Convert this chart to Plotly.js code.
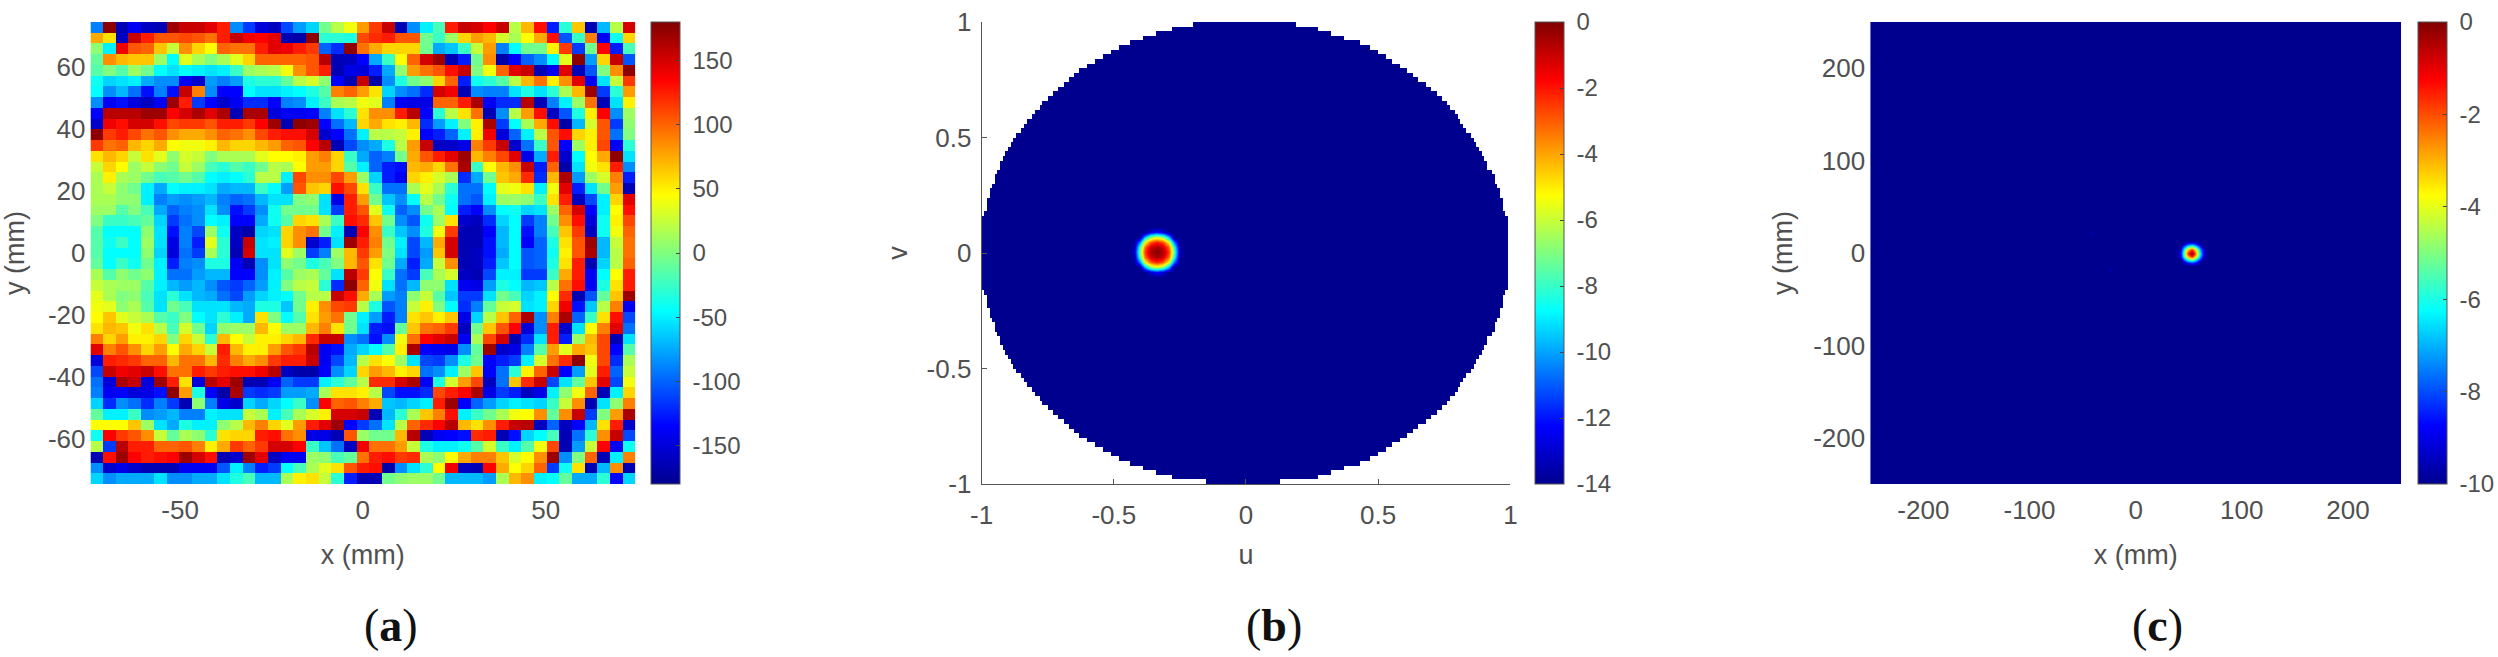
<!DOCTYPE html>
<html>
<head>
<meta charset="utf-8">
<script src="https://cdn.plot.ly/plotly-3.0.1.min.js"></script>
<style>body { margin: 0; background: #fff; }</style>
</head>
<body>
<div id="chart"></div>
<script>
// panel (a): phase in degrees, top row first, 43 x 43 cells
const phaseRows = [
[-90,175,-165,-140,-160,-165,170,155,155,145,125,-85,-115,-150,-160,-110,-80,-60,-5,20,40,80,115,155,-165,-85,-50,-20,125,155,150,135,155,20,70,130,-125,-30,65,-165,-70,20,150],
[75,55,-160,155,125,105,105,110,105,95,125,155,140,135,145,-165,-170,175,-30,-30,-35,110,120,125,105,105,-5,-25,10,60,80,70,30,15,45,75,130,-105,-25,90,-140,-40,60],
[5,-50,140,105,100,65,25,85,60,45,100,95,95,125,145,140,125,115,-100,-120,175,95,75,60,60,60,-5,-75,-65,-25,25,80,-90,-45,-5,-5,50,115,-115,-5,135,-125,-20],
[-10,85,70,65,65,10,-45,35,15,0,15,35,60,100,100,100,100,105,160,-165,-160,-135,-75,-25,45,100,150,170,-165,-125,-5,85,-170,-135,-100,-85,-45,35,175,-80,60,155,-105],
[-15,0,-15,10,-5,-45,-55,-45,-50,-55,-50,-25,10,15,20,40,85,105,125,-165,-145,-150,-125,-75,5,80,95,105,130,155,0,40,100,145,155,-165,-140,145,-165,-105,0,85,175],
[-40,-60,-55,-50,-75,-85,-85,-140,-155,-80,-90,-80,-35,-30,-30,-10,20,30,5,-135,-165,155,-170,-85,-35,-5,5,60,100,-125,-40,-30,-15,20,70,95,50,85,145,-140,-55,25,115],
[-45,-85,-70,-95,-130,-90,-130,155,90,-85,-135,-135,-45,-55,-55,-50,-45,-35,-15,90,100,80,55,-60,-85,-95,-120,150,140,-165,-85,-90,-90,-55,-35,-55,-30,15,70,170,-115,-30,80],
[-85,-140,-130,-150,-160,-140,170,125,-115,-135,-155,-140,-120,-120,-135,-90,-85,-50,-25,15,20,40,35,-90,-140,-145,-145,100,100,125,165,-140,-120,-120,160,-165,-90,-50,10,95,-165,-55,50],
[-135,160,160,160,170,170,135,150,165,145,165,-165,165,165,-150,-140,-140,-135,-90,-55,-30,55,85,85,125,160,-135,-30,20,55,95,-165,-85,20,80,130,-160,-105,-35,50,135,-85,10],
[-155,140,130,150,150,130,110,115,115,105,125,125,115,135,170,-165,175,170,-135,-95,-70,60,75,55,50,70,-120,-80,-50,0,50,165,-115,-45,15,75,130,-170,-70,30,105,-115,5],
[175,115,125,110,95,105,85,75,75,85,100,95,85,110,125,130,130,150,-155,-135,-95,-50,20,20,25,50,-135,-125,-100,-50,50,140,-150,-100,-50,20,105,130,60,50,105,-95,0],
[115,95,100,70,60,75,45,40,40,50,70,60,60,70,80,100,105,135,160,-165,-110,-85,-75,-35,20,80,155,-160,-155,-145,90,115,155,-155,-95,-25,105,-135,10,50,110,-140,-30],
[55,70,60,25,55,35,5,30,25,0,15,15,15,35,45,45,50,80,90,60,-25,-75,-100,-90,-5,75,105,125,145,170,70,90,110,145,-145,-75,125,-155,-45,45,75,175,-55],
[25,60,45,10,25,5,-5,25,10,-20,-30,-15,-25,-5,20,15,45,80,80,60,-15,-50,-100,-125,-130,70,75,60,95,165,-25,45,70,85,155,-125,100,-170,-55,40,55,125,-85],
[15,50,15,10,-5,-20,-15,-5,-15,-45,-50,-45,-30,20,20,-50,110,85,85,110,80,10,-60,-125,-140,60,50,30,15,-120,-75,-5,65,75,120,-120,70,165,-80,10,30,90,-125],
[15,25,5,-5,-50,-75,-45,-50,-50,-55,-75,-70,-70,-25,-45,-80,105,65,60,130,110,55,-25,-95,-95,15,35,15,-30,-95,-95,-45,35,40,55,-50,40,145,-125,-55,-5,80,-165],
[15,15,5,5,-50,-90,-80,-85,-80,-70,-90,-100,-95,-70,-55,-55,0,5,-55,-145,125,80,-5,-65,-85,-45,20,-5,-40,-95,-105,-50,10,10,5,-25,55,125,-160,-110,-50,60,145],
[10,10,-15,0,-20,-75,-100,-90,-85,-55,-85,-130,-115,-85,-40,-5,-5,-5,-55,-115,125,105,35,-40,-100,-85,-5,15,-45,-125,-135,-85,-45,-40,-60,-55,10,100,150,-135,-50,45,130],
[0,-25,-25,-20,-10,-60,-115,-95,-85,-45,-50,-135,-135,-75,-40,-15,60,55,15,-25,130,120,65,-5,-85,-105,-40,10,55,-155,-160,-120,-60,-45,-115,-90,-5,85,130,-150,-40,50,110],
[-15,-45,-45,-45,5,-55,-130,-90,-110,10,-40,-160,-170,-60,-55,60,85,95,-5,-50,-165,135,85,-25,-65,-85,-35,40,115,-165,-165,-135,-70,-45,-130,-90,-20,65,115,-160,-40,40,100],
[-15,-40,-25,-45,10,-55,-145,-90,-125,35,-30,-160,155,-55,-50,60,85,-155,-125,-55,170,125,90,-5,-50,-110,-70,75,150,-165,-165,-130,-70,-45,-135,-100,-35,55,105,170,-70,25,95],
[-15,-45,-45,-45,5,-60,-150,-95,-115,15,-30,-165,150,-55,-55,35,10,-115,-90,10,70,115,80,0,-55,-110,-80,65,150,-165,-160,-130,-75,-45,-105,-100,-40,50,105,165,-70,20,95],
[-10,-45,-25,-40,-5,-50,-125,-90,-85,-35,-35,-140,-165,-85,-55,5,-5,-35,-20,0,70,105,55,-5,-75,-125,-75,25,85,-165,-160,-125,-65,-45,-105,-100,-35,55,125,-165,-60,20,100],
[15,-15,5,-5,5,-50,-95,-95,-80,-70,-70,-135,-135,-85,-50,-15,10,15,-10,-55,160,115,45,-25,-95,-115,-20,15,30,-160,-165,-110,-50,-50,-115,-115,-25,75,125,-140,-45,45,125],
[25,15,10,10,-15,-50,-70,-80,-70,-85,-105,-115,-100,-80,-50,0,20,25,-30,-120,175,100,40,-55,-95,-70,5,5,-55,-140,-145,-80,-35,-45,-70,-65,20,95,130,-140,-35,55,125],
[35,15,0,5,-20,-55,-30,-55,-70,-75,-95,-110,-80,-60,-50,-45,-5,20,20,155,130,75,15,-80,-90,5,25,-15,-65,-115,-115,-55,-5,-20,-60,-50,45,120,-165,-105,-10,65,170],
[40,35,5,15,-15,-55,-5,-20,-55,-55,-55,-70,-75,-35,-35,-65,-5,50,85,110,115,20,-35,-105,-90,25,50,0,-45,-120,-90,-10,25,30,-55,-50,60,140,-130,-65,20,90,-140],
[45,65,35,25,15,-15,-25,0,-45,-55,-30,-50,-75,55,0,-45,-15,55,80,95,-5,-50,-80,-125,-90,55,65,50,65,-145,-60,20,65,100,165,-85,90,165,-100,-25,55,130,-110],
[55,70,65,40,55,20,-20,30,-5,-60,5,10,10,70,45,10,10,70,90,55,-5,-55,-125,-130,-10,65,95,100,115,-160,-5,65,105,135,-150,-85,125,-155,-55,45,90,145,-95],
[90,60,80,50,50,60,0,60,25,-30,70,45,25,50,50,60,70,120,155,155,-85,-95,-130,-85,40,95,135,145,155,-140,15,110,150,-165,-120,-55,125,-125,10,70,110,-165,-55],
[145,90,105,85,60,80,45,75,60,25,125,70,50,50,80,105,115,160,-140,-130,-75,-60,-45,-15,50,165,-135,-140,-145,-85,-10,170,-155,-145,-90,-15,80,35,75,65,110,-135,-15],
[-150,125,120,115,100,100,70,95,95,70,120,90,75,85,115,125,125,155,-140,-110,-70,20,55,45,10,-55,-110,-115,-85,-35,-5,-135,-125,-115,-50,30,95,120,175,40,110,-120,15],
[-110,155,140,145,155,130,95,95,125,115,125,130,130,140,160,-160,-170,-170,-135,-85,-60,60,80,70,50,60,-95,-85,-50,10,65,-135,-95,-30,50,100,155,-135,-80,35,125,-100,25],
[-95,-150,165,155,-150,170,125,55,-150,160,145,170,-165,-165,-140,-100,-115,-115,-50,-30,-10,20,120,120,150,165,-140,-35,30,80,110,-160,-95,65,120,155,-110,-55,-10,65,145,-110,40],
[-90,-140,-135,-150,-145,-130,175,80,-35,-135,-170,165,-115,-120,-115,-80,-80,-75,15,55,55,50,20,-110,-130,-130,-120,110,125,135,165,-145,-115,-125,-160,-145,-50,5,40,100,-165,-50,60],
[-60,-120,-85,-95,-120,-90,-115,-165,5,-90,-145,-155,-60,-75,-60,-45,-25,-85,135,100,105,90,75,-65,-70,-60,-50,125,170,-135,-100,-80,-60,-50,-55,-60,-25,25,85,-165,-55,5,90],
[-10,-50,-50,-25,-85,-80,-70,-90,-90,-50,-55,-55,25,15,-50,-20,15,30,50,150,150,155,-165,-70,-30,15,65,90,130,-50,-25,-5,15,40,45,85,-10,85,155,-115,0,80,165],
[45,45,45,65,10,-55,-75,-35,-50,-50,5,20,70,90,60,35,80,125,145,170,-135,-115,-95,-55,20,100,120,135,160,70,55,85,125,155,160,-160,-100,-160,-135,-70,55,125,-155],
[-40,135,115,105,85,25,-10,15,5,-30,55,60,60,125,130,95,85,-145,-145,-165,105,10,-5,-5,70,160,-165,-140,-135,-130,120,125,-165,-130,-60,-45,-20,-165,-95,-30,85,155,-110],
[20,-115,160,125,125,100,100,105,90,50,75,115,100,115,150,150,135,-25,-65,-95,-160,140,95,95,80,25,-35,-50,-50,-40,-15,30,-25,-50,-15,40,110,-165,-80,25,135,-140,-40],
[-165,130,170,135,125,130,135,170,150,130,-165,-155,170,145,-160,-140,-140,10,5,-20,-10,95,125,130,115,120,15,5,45,75,90,90,65,30,45,85,170,-85,0,100,-165,-50,90],
[-85,-155,-145,-155,-165,-165,-165,-140,-140,-140,-105,-50,-90,-125,-115,-45,-20,15,35,55,105,125,130,-170,-85,-55,-30,45,140,-160,-165,135,75,45,60,100,-115,-40,55,-165,-70,85,-165],
[-60,-85,-75,-75,-75,-55,-85,-85,-75,-75,-55,-35,-20,-70,-70,15,50,55,25,-30,-125,-165,-165,-5,5,10,10,-5,-70,-70,-70,-80,15,70,85,-50,-45,-10,-75,-75,-30,-135,-60]
];

// panel (b): half width of the visible disc per row of v, top half then bottom half
const discUpper = [.20,.28,.34,.39,.44,.48,.51,.54,.57,.60,.63,.65,.67,.69,.71,.73,.75,.77,.78,.80,.81,.83,.84,.85,.87,.88,.89,.90,.91,.92,.93,.93,.94,.95,.95,.96,.97,.97,.98,.98,.98,.99,1,1,1,1,1,1,1,1];
const discLower = [1,1,1,1,1,1,1,1,.99,.98,.98,.98,.97,.97,.96,.95,.95,.94,.93,.93,.92,.91,.90,.89,.88,.87,.85,.84,.83,.81,.80,.78,.77,.75,.73,.71,.69,.67,.65,.63,.60,.57,.54,.51,.48,.44,.39,.34,.28,.15];
const discFloor = -14;

// panel (b): beam spot in dB
const spotBu = [-.448,-.426,-.404,-.382,-.36,-.338,-.316,-.294,-.272,-.25,-.228];
const spotBv = [.115,.093,.071,.049,.027,.005,-.017,-.039,-.061,-.083,-.105];
const spotBz = [
[-14,-14,-14,-14,-14,-14,-14,-14,-14,-14,-14],
[-14,-14,-14,-14,-12.8,-12,-12.8,-14,-14,-14,-14],
[-14,-14,-14,-9.8,-6.7,-5.8,-6.7,-9.8,-14,-14,-14],
[-14,-14,-10.5,-5.4,-2.9,-2.1,-2.9,-5.4,-10.5,-14,-14],
[-14,-13.9,-8,-3.2,-1.1,-.5,-1.1,-3.2,-8,-13.9,-14],
[-14,-13.4,-7.2,-2.5,-.6,0,-.6,-2.5,-7.2,-13.4,-14],
[-14,-13.9,-8,-3.2,-1.1,-.5,-1.1,-3.2,-8,-13.9,-14],
[-14,-14,-10.5,-5.4,-2.9,-2.1,-2.9,-5.4,-10.5,-14,-14],
[-14,-14,-14,-9.8,-6.7,-5.8,-6.7,-9.8,-14,-14,-14],
[-14,-14,-14,-14,-12.8,-12,-12.8,-14,-14,-14,-14],
[-14,-14,-14,-14,-14,-14,-14,-14,-14,-14,-14]
];

// panel (c): image plane in dB, spot plus the two faint dots
const spotCx = [38.5,42,45.5,49,52.5,56,59.5,63,66.5];
const spotCy = [14,10.5,7,3.5,0,-3.5,-7,-10.5,-14];
const spotCz = [
[-10,-10,-10,-10,-10,-10,-10,-10,-10],
[-10,-10,-9.6,-8.5,-8.1,-8.5,-9.6,-10,-10],
[-10,-10,-7.8,-5.8,-5,-5.8,-7.8,-10,-10],
[-10,-9,-6.1,-3.2,-1.5,-3.2,-6.1,-9,-10],
[-10,-8.5,-5.4,-1.7,0,-1.7,-5.4,-8.5,-10],
[-10,-9,-6.1,-3.2,-1.5,-3.2,-6.1,-9,-10],
[-10,-10,-7.8,-5.8,-5,-5.8,-7.8,-10,-10],
[-10,-10,-9.6,-8.5,-8.1,-8.5,-9.6,-10,-10],
[-10,-10,-10,-10,-10,-10,-10,-10,-10]
];
const dotOneX = [-44.5,-41.5,-38.5];
const dotOneY = [23,20,17];
const dotTwoX = [-26.5,-23.5,-20.5];
const dotTwoY = [-14.7,-17.7,-20.7];
const dotZ = [[-10,-10,-10],[-10,-9.6,-10],[-10,-10,-10]];

const jet = [[0,'#00008f'],[.125,'#0000ff'],[.375,'#00ffff'],[.625,'#ffff00'],[.875,'#ff0000'],[1,'#800000']];
const textColor = '#505050';
const W = 2498, H = 657;
const plotTop = 22, plotBottom = 484;

// cell centres for panel (a), range is about +/-74.5 mm
const phaseX = [], phaseY = [];
for (let i = 0; i < 43; i++) {
    phaseX.push(-74.5 + (i + .5) * 149 / 43);
    phaseY.push(74.5 - (i + .5) * 149 / 43);
}

// disc mask for panel (b)
const discU = [], discV = [], discZ = [];
for (let i = 0; i < 200; i++) discU.push(-.995 + i * .01);
discUpper.concat(discLower).forEach((hw, j) => {
    discV.push(.99 - j * .02);
    discZ.push(discU.map(u => (u >= -hw && u <= hw - .015) ? discFloor : null));
});

function xDomain(a, b) { return [a / W, b / W]; }
const yDomain = [1 - plotBottom / H, 1 - plotTop / H];

function colorbar(left, width, vals) {
    return {
        x: left / W, xanchor: 'left', xpad: 0,
        y: yDomain[0], yanchor: 'bottom', ypad: 0,
        len: yDomain[1] - yDomain[0], lenmode: 'fraction',
        thickness: width, thicknessmode: 'pixels',
        outlinecolor: '#555', outlinewidth: 1,
        tickmode: 'array', tickvals: vals, ticktext: vals.map(v => '\u00a0' + v),
        ticks: 'inside', ticklen: 4, tickcolor: '#444', tickwidth: 1,
        tickfont: { family: 'Liberation Sans', size: 24, color: textColor }
    };
}

function axis(domain, anchor, range, vals, title, standoff, extra) {
    return Object.assign({
        domain: domain, anchor: anchor, range: range,
        tickmode: 'array', tickvals: vals, ticktext: vals.map(String),
        showgrid: false, zeroline: false, ticks: '',
        tickfont: { family: 'Liberation Sans', size: 26, color: textColor },
        title: { text: title, font: { family: 'Liberation Sans', size: 27, color: textColor }, standoff: standoff }
    }, extra || {});
}

const boxedLine = { showline: true, linecolor: '#555', linewidth: 1, ticks: 'inside', ticklen: 5, tickcolor: '#555' };

const traces = [
    { type: 'heatmap', x: phaseX, y: phaseY, z: phaseRows, coloraxis: 'coloraxis', xaxis: 'x', yaxis: 'y', hoverinfo: 'skip' },
    { type: 'heatmap', x: discU, y: discV, z: discZ, coloraxis: 'coloraxis2', xaxis: 'x2', yaxis: 'y2', hoverongaps: false, hoverinfo: 'skip' },
    { type: 'heatmap', x: spotBu, y: spotBv, z: spotBz, zsmooth: 'best', coloraxis: 'coloraxis2', xaxis: 'x2', yaxis: 'y2', hoverinfo: 'skip' },
    { type: 'heatmap', x: [-250, 250], y: [-250, 250], z: [[-10]], coloraxis: 'coloraxis3', xaxis: 'x3', yaxis: 'y3', hoverinfo: 'skip' },
    { type: 'heatmap', x: spotCx, y: spotCy, z: spotCz, zsmooth: 'best', coloraxis: 'coloraxis3', xaxis: 'x3', yaxis: 'y3', hoverinfo: 'skip' },
    { type: 'heatmap', x: dotOneX, y: dotOneY, z: dotZ, zsmooth: 'best', coloraxis: 'coloraxis3', xaxis: 'x3', yaxis: 'y3', hoverinfo: 'skip' },
    { type: 'heatmap', x: dotTwoX, y: dotTwoY, z: dotZ, zsmooth: 'best', coloraxis: 'coloraxis3', xaxis: 'x3', yaxis: 'y3', hoverinfo: 'skip' }
];

function panelLabel(letter, cx) {
    return {
        xref: 'paper', yref: 'paper', x: cx / W, y: 1 - 625 / H,
        xanchor: 'center', yanchor: 'middle', showarrow: false,
        text: '(<b>' + letter + '</b>)',
        font: { family: 'Liberation Serif', size: 46, color: '#111' }
    };
}

const layout = {
    width: W, height: H,
    margin: { l: 0, r: 0, t: 0, b: 0 },
    paper_bgcolor: '#fff', plot_bgcolor: '#fff',
    showlegend: false,
    xaxis: axis(xDomain(90.5, 635.5), 'y', [-74.5, 74.5], [-50, 0, 50], 'x (mm)', 21, { ticklabelstandoff: 8 }),
    yaxis: axis(yDomain, 'x', [-74.5, 74.5], [-60, -40, -20, 0, 20, 40, 60], 'y (mm)', 17, { ticklabelstandoff: 4 }),
    xaxis2: axis(xDomain(982, 1511), 'y2', [-1, 1], [-1, -.5, 0, .5, 1], 'u', 15, Object.assign({ ticklabelstandoff: 8 }, boxedLine)),
    yaxis2: axis(yDomain, 'x2', [-1, 1], [-1, -.5, 0, .5, 1], 'v', 11, Object.assign({ ticklabelstandoff: 4 }, boxedLine)),
    xaxis3: axis(xDomain(1871, 2402), 'y3', [-250, 250], [-200, -100, 0, 100, 200], 'x (mm)', 21, { ticklabelstandoff: 8 }),
    yaxis3: axis(yDomain, 'x3', [-250, 250], [-200, -100, 0, 100, 200], 'y (mm)', 12, { ticklabelstandoff: 4 }),
    coloraxis: { colorscale: jet, cmin: -180, cmax: 180, colorbar: colorbar(651, 29, [-150, -100, -50, 0, 50, 100, 150]) },
    coloraxis2: { colorscale: jet, cmin: -14, cmax: 0, colorbar: colorbar(1535, 29, [-14, -12, -10, -8, -6, -4, -2, 0]) },
    coloraxis3: { colorscale: jet, cmin: -10, cmax: 0, colorbar: colorbar(2418, 29, [-10, -8, -6, -4, -2, 0]) },
    annotations: [panelLabel('a', 391), panelLabel('b', 1275), panelLabel('c', 2158)]
};

Plotly.newPlot('chart', traces, layout, { displayModeBar: false, responsive: false });
</script>
</body>
</html>
